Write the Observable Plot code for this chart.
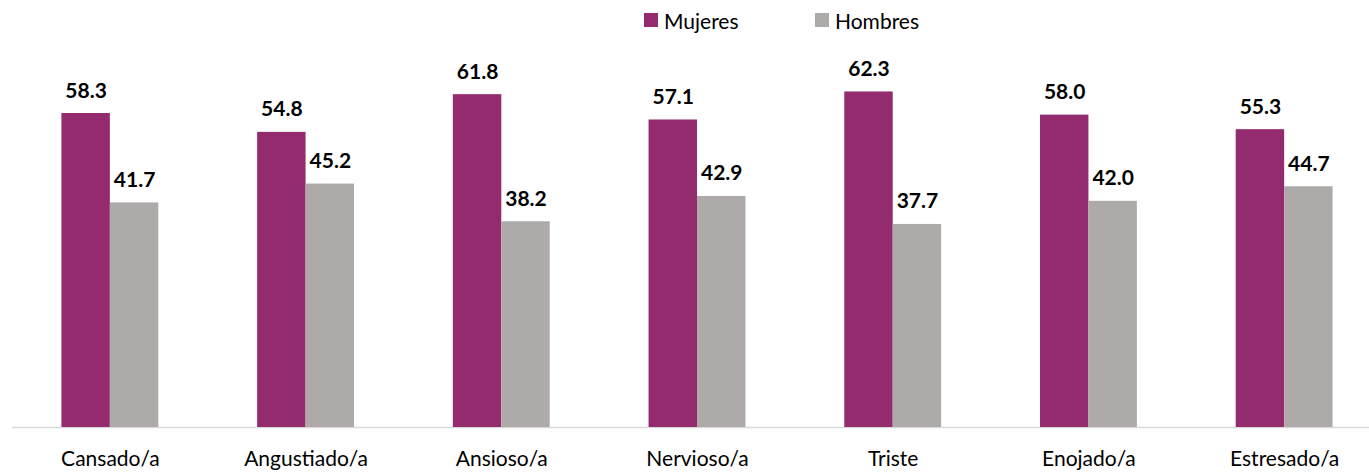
<!DOCTYPE html>
<html><head><meta charset="utf-8">
<script src="https://cdn.jsdelivr.net/npm/d3@7"></script>
<script src="https://cdn.jsdelivr.net/npm/@observablehq/plot@0.6"></script>
<style>
body{margin:0;background:#fff;overflow:hidden;font-family:Lato,sans-serif}
#legend{position:relative;height:40px;width:1369px}
.item{position:absolute;top:7px;height:26px;display:flex;align-items:center;font-size:21px;color:#000;white-space:nowrap}
.sw{width:14px;height:14px;margin-right:6px}
#chart{width:1369px;overflow:hidden}
#chart svg{max-width:none !important;display:block}
</style></head><body>
<div id="legend"></div>
<div id="chart"></div>
<script>
const categories = ["Cansado/a","Angustiado/a","Ansioso/a","Nervioso/a","Triste","Enojado/a","Estresado/a"];
const series = ["Mujeres","Hombres"];
const mujeres = [58.3,54.8,61.8,57.1,62.3,58.0,55.3];
const hombres = [41.7,45.2,38.2,42.9,37.7,42.0,44.7];
const colors = ["#952B6F","#AEAAAA"];
const legendLeft = [644, 815];

const data = [];
categories.forEach((c,i)=>{
  data.push({cat:c, sex:series[0], value:mujeres[i]});
  data.push({cat:c, sex:series[1], value:hombres[i]});
});

const legend = document.getElementById("legend");
series.forEach((s,i)=>{
  const it = document.createElement("div");
  it.className="item"; it.style.left=legendLeft[i]+"px";
  const sw=document.createElement("div"); sw.className="sw"; sw.style.background=colors[i];
  const t=document.createElement("span"); t.textContent=s;
  it.appendChild(sw); it.appendChild(t); legend.appendChild(it);
});

const chart = Plot.plot({
  width: 1382, height: 432,
  marginLeft: 12, marginRight: 0, marginTop: 10, marginBottom: 45,
  style: {fontFamily: "Lato, sans-serif", fontSize: "21px", color: "#000", background: "#fff", maxWidth: "none"},
  fx: {domain: categories, padding: 0, round: false, label: null, axis: "bottom", tickSize: 0, tickPadding: 24},
  x: {domain: series, paddingInner: 0, paddingOuter: 1.02, round: false, axis: null},
  y: {domain: [0,70], axis: null},
  color: {domain: series, range: colors},
  marks: [
    Plot.ruleY([0], {stroke: "#d9d9d9", strokeWidth: 1.5}),
    Plot.barY(data, {fx: "cat", x: "sex", y: "value", fill: "sex"}),
    Plot.text(data, {fx: "cat", x: "sex", y: "value", text: d => d.value.toFixed(1), dy: -16, lineAnchor: "bottom", fontWeight: "bold", fontSize: 21, fill: "#000"})
  ]
});
document.getElementById("chart").appendChild(chart);
</script>
</body></html>
